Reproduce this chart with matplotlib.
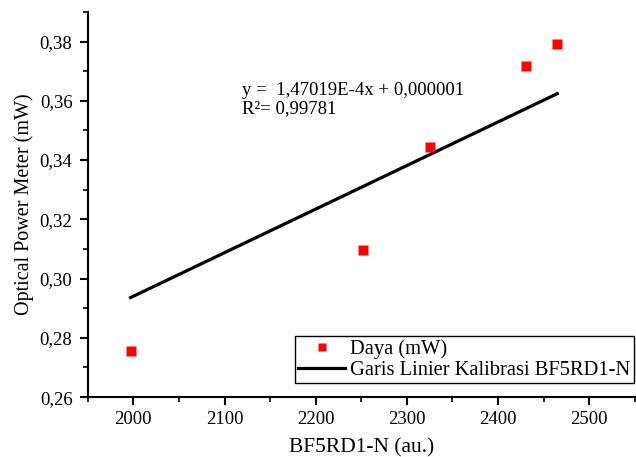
import matplotlib
matplotlib.use("Agg")
import matplotlib.pyplot as plt
import numpy as np
from matplotlib.ticker import MultipleLocator, FuncFormatter

# data
bf5rd1 = [1997, 2252, 2325, 2431, 2465]
daya_mw = [0.2756, 0.3097, 0.3445, 0.3719, 0.3790]

# calibration line from the printed equation
slope = 1.47019e-4
intercept = 0.000001
r2 = 0.99781

plt.rcParams['font.family'] = ['Liberation Serif', 'DejaVu Serif']

fig = plt.figure(figsize=(6.36, 4.57), dpi=100)
ax = fig.add_axes([0.138, 0.131, 0.860, 0.843])

x_line = np.array([min(bf5rd1), max(bf5rd1)])
ax.plot(x_line, slope * x_line + intercept, color='black', lw=2.3,
        label='Garis Linier Kalibrasi BF5RD1-N', zorder=2)
ax.plot(bf5rd1, daya_mw, 's', color='#ff0000', ms=7.5, mec='none',
        label='Daya (mW)', zorder=3)

ax.set_xlim(1950, 2550)
ax.set_ylim(0.26, 0.39)
ax.xaxis.set_major_locator(MultipleLocator(100))
ax.xaxis.set_minor_locator(MultipleLocator(50))
ax.yaxis.set_major_locator(MultipleLocator(0.02))
ax.yaxis.set_minor_locator(MultipleLocator(0.01))
ax.yaxis.set_major_formatter(FuncFormatter(lambda v, p: f"{v:.2f}".replace('.', ',')))

for s in ['top', 'right']:
    ax.spines[s].set_visible(False)
for s in ['left', 'bottom']:
    ax.spines[s].set_linewidth(1.5)

ax.tick_params(which='major', direction='out', length=6, width=1.5, labelsize=13.5, pad=5)
ax.tick_params(axis='x', which='major', pad=4)
ax.tick_params(which='minor', direction='out', length=3.5, width=1.2)

ax.set_xlabel('BF5RD1-N (au.)', fontsize=15.5, labelpad=7)
ax.set_ylabel('Optical Power Meter (mW)', fontsize=14.5, labelpad=4)

eq = f"y =  {slope:.5E}".replace('.', ',').replace('E-04', 'E-4') + "x + " + f"{intercept:.6f}".replace('.', ',')
ax.text(2119, 0.3618, eq, fontsize=13.5, va='baseline')
ax.text(2119, 0.3560, "R\u00b2= " + f"{r2:.5f}".replace('.', ','), fontsize=13.5, va='baseline')

handles, labels = ax.get_legend_handles_labels()
leg = ax.legend(handles[::-1], labels[::-1], loc='lower right',
                bbox_to_anchor=(0.998, 0.036), fontsize=14.8,
                frameon=True, fancybox=False, edgecolor='black', framealpha=1,
                borderaxespad=0, handlelength=2.3, markerscale=0.8,
                borderpad=0.15, labelspacing=0.1, handletextpad=0.25)
leg.get_frame().set_linewidth(1.0)

fig.savefig('out.png', dpi=100)
